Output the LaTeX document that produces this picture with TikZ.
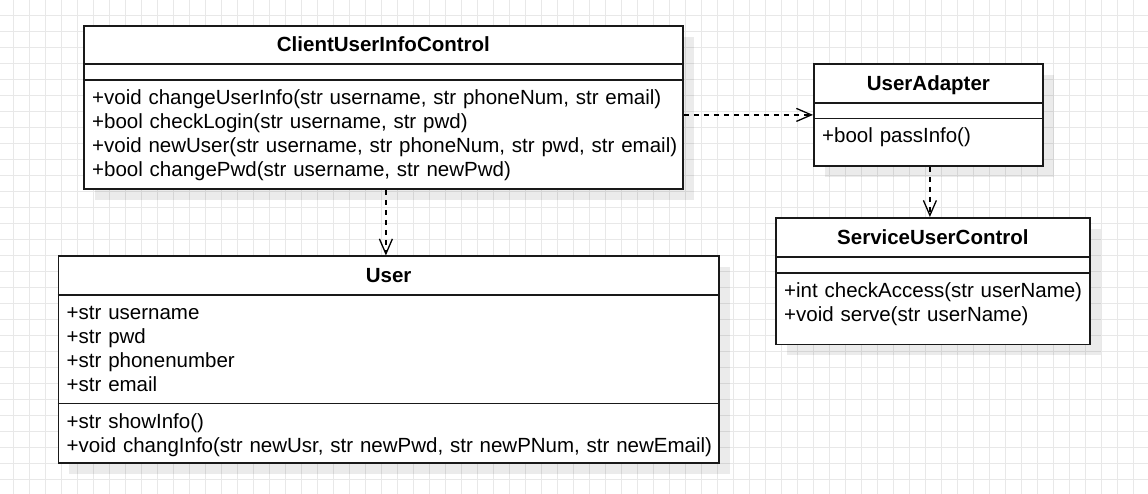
\documentclass[tikz,border=0pt]{standalone}
\usepackage{fontspec}
\setmainfont{Liberation Sans}
\usetikzlibrary{arrows.meta,calc,shadows}
\begin{document}
\begin{tikzpicture}[x=1pt,y=-1pt,
  font=\fontsize{20.5}{24}\selectfont,
  gridline/.style={draw=black!9, line width=0.8pt},
  classbox/.style={draw=black!90, line width=1.8pt, fill=white, inner sep=0pt,
    anchor=north west,
    drop shadow={shadow xshift=11pt, shadow yshift=-11pt, fill=black, opacity=0.08}},
  divider/.style={draw=black!90, line width=1.8pt},
  classtitle/.style={font=\fontsize{20.5}{24}\selectfont\bfseries, anchor=base, inner sep=0pt},
  members/.style={anchor=base west, inner sep=0pt, align=left, text width=700pt},
  depends/.style={draw=black, line width=1.3pt, dash pattern=on 5.5pt off 4.5pt,
    -{Straight Barb[length=15pt,width=13pt,line width=1.3pt]}}
]
% canvas and grid
\useasboundingbox (0,0) rectangle (1148,494);
\fill[white] (0,0) rectangle (1148,494);
\foreach \gx in {13.3,29.3,...,1148} \draw[gridline] (\gx,0) -- (\gx,494);
\foreach \gy in {15.3,31.3,...,494} \draw[gridline] (0,\gy) -- (1148,\gy);

% class frames
\node[classbox, minimum width=599pt, minimum height=163pt] (C) at (83,25) {};
\node[classbox, minimum width=229pt, minimum height=102pt] (UA) at (813,63) {};
\node[classbox, minimum width=314pt, minimum height=126.5pt] (S) at (775,217) {};
\node[classbox, minimum width=660.5pt, minimum height=206.5pt] (U) at (57.5,255.5) {};

% compartment dividers
\draw[divider] ($(C.north west)+(0,39)$) -- ($(C.north east)+(0,39)$);
\draw[divider] ($(C.north west)+(0,55)$) -- ($(C.north east)+(0,55)$);
\draw[divider] ($(UA.north west)+(0,40)$) -- ($(UA.north east)+(0,40)$);
\draw[divider] ($(UA.north west)+(0,55.5)$) -- ($(UA.north east)+(0,55.5)$);
\draw[divider] ($(S.north west)+(0,40)$) -- ($(S.north east)+(0,40)$);
\draw[divider] ($(S.north west)+(0,56)$) -- ($(S.north east)+(0,56)$);
\draw[divider] ($(U.north west)+(0,39.5)$) -- ($(U.north east)+(0,39.5)$);
\draw[divider] ($(U.north west)+(0,148)$) -- ($(U.north east)+(0,148)$);

% class names
\node[classtitle] (Ct) at ($(C.north)+(0,27)$) {ClientUserInfoControl};
\node[classtitle] (UAt) at ($(UA.north)+(0,27.5)$) {UserAdapter};
\node[classtitle] (St) at ($(S.north)+(0,27.5)$) {ServiceUserControl};
\node[classtitle] (Ut) at ($(U.north)+(0,27)$) {User};

% members
\node[members] (Cm) at ($(C.north west)+(9,80)$) {%
  +void changeUserInfo(str username, str phoneNum, str email)\\
  +bool checkLogin(str username, str pwd)\\
  +void newUser(str username, str phoneNum, str pwd, str email)\\
  +bool changePwd(str username, str newPwd)};
\node[members] (UAm) at ($(UA.north west)+(9,80)$) {+bool passInfo()};
\node[members] (Sm) at ($(S.north west)+(9,80.5)$) {%
  +int checkAccess(str userName)\\
  +void serve(str userName)};
\node[members] (Ua) at ($(U.north west)+(9,64)$) {%
  +str username\\
  +str pwd\\
  +str phonenumber\\
  +str email};
\node[members] (Um) at ($(U.north west)+(9,172.5)$) {%
  +str showInfo()\\
  +void changInfo(str newUsr, str newPwd, str newPNum, str newEmail)};

% dependencies
\draw[depends] (C.east |- UA.west) -- (UA.west);
\coordinate (cdep) at ($(C.south)+(2.5,0)$);
\draw[depends] (cdep) -- (cdep |- U.north);
\coordinate (adep) at ($(UA.south)+(1.5,0)$);
\draw[depends] (adep) -- (adep |- S.north);
\end{tikzpicture}
\end{document}
